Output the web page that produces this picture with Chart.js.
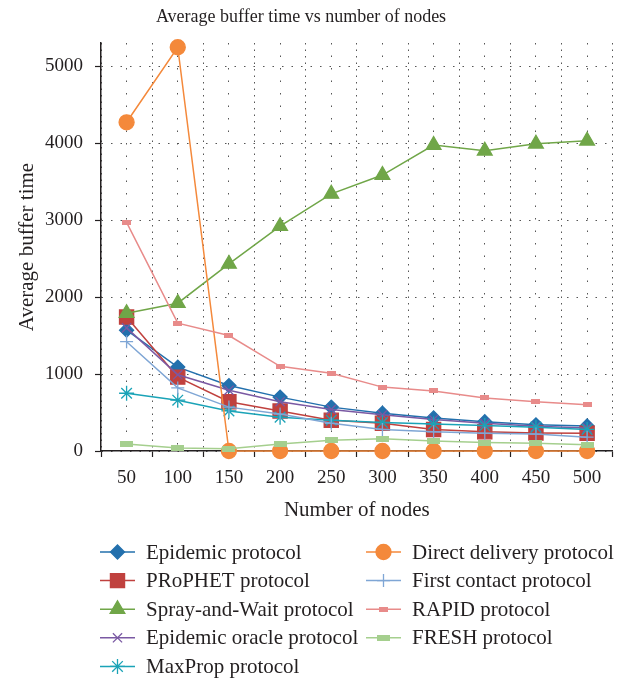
<!DOCTYPE html>
<html>
<head>
<meta charset="utf-8">
<script src="https://cdn.jsdelivr.net/npm/chart.js@4.4.1/dist/chart.umd.min.js"></script>
<style>
  html, body { margin: 0; padding: 0; background: #fff; }
</style>
</head>
<body>
<canvas id="grafico-buffer" width="624" height="679"></canvas>
<script>
/* Average buffer time vs number of nodes */

// ----------------------------------------- Dados ----------------------------------------- //
const nos = [50, 100, 150, 200, 250, 300, 350, 400, 450, 500];
const yTicks = [0, 1000, 2000, 3000, 4000, 5000];

const epidemic       = [1570, 1090, 850, 700, 570, 490, 430, 380, 340, 325];
const prophet        = [1740, 960, 640, 520, 400, 360, 280, 250, 235, 230];
const sprayWait      = [1790, 1920, 2430, 2920, 3340, 3585, 3975, 3900, 3990, 4030];
const epidemicOracle = [1600, 990, 790, 640, 540, 470, 410, 360, 320, 300];
const maxProp        = [750, 660, 520, 440, 400, 370, 350, 330, 310, 280];
const directDelivery = [4270, 5245, 0, 0, 0, 0, 0, 0, 0, 0];
const firstContact   = [1420, 820, 570, 480, 360, 280, 250, 230, 220, 180];
const rapid          = [2970, 1660, 1500, 1100, 1010, 830, 780, 690, 640, 600];
const fresh          = [90, 40, 30, 90, 140, 160, 130, 110, 100, 80];

// ----------------------------------------- Estilo ----------------------------------------- //
const FONTE = "'Liberation Serif', 'Times New Roman', serif";
const TEXTO = '#231f20';

function marcaRect(w, h, cor) {   // marcador retangular achatado
  const c = document.createElement('canvas');
  c.width = w; c.height = h;
  const g = c.getContext('2d');
  g.fillStyle = cor;
  g.fillRect(0, 0, w, h);
  return c;
}

function serie(label, valores, cor, estilo, raio) {
  return {
    label,
    data: nos.map((n, i) => ({ x: n, y: valores[i] })),
    borderColor: cor,
    backgroundColor: cor,
    pointBackgroundColor: cor,
    pointBorderColor: cor,
    pointStyle: estilo,
    pointRadius: raio,
    pointHoverRadius: raio,
    pointBorderWidth: 1.3,
    borderWidth: 1.5,
    tension: 0,
    clip: false
  };
}

const series = [
  serie('Epidemic protocol', epidemic, '#2370ad', 'rectRot', 7),
  serie('PRoPHET protocol', prophet, '#c0413e', 'rect', 10),
  serie('Spray-and-Wait protocol', sprayWait, '#70a648', 'triangle', 8.5),
  serie('Epidemic oracle protocol', epidemicOracle, '#7a59a3', 'crossRot', 6.5),
  serie('MaxProp protocol', maxProp, '#1aa3b7', 'star', 7.5),
  serie('Direct delivery protocol', directDelivery, '#f4893b', 'circle', 7.5),
  serie('First contact protocol', firstContact, '#7fa6d5', 'cross', 6.5),
  serie('RAPID protocol', rapid, '#e88b8a', marcaRect(9, 5, '#e88b8a'), 5),
  serie('FRESH protocol', fresh, '#a5cf8e', marcaRect(13, 6, '#a5cf8e'), 5)
];
// o último desenhado fica por cima
series.forEach((s, i) => { s.order = series.length - i; });

// ----------------------------------------- Título e legenda (2 colunas) ----------------------------------------- //
const extras = {
  id: 'extras',
  afterDraw(chart) {
    const ctx = chart.ctx;
    ctx.save();
    ctx.fillStyle = TEXTO;
    ctx.font = `18px ${FONTE}`;
    ctx.textAlign = 'center';
    ctx.textBaseline = 'middle';
    ctx.fillText('Average buffer time vs number of nodes', 301, 17);

    const colX = [100, 366];
    ctx.font = `21px ${FONTE}`;
    ctx.textAlign = 'left';
    chart.data.datasets.forEach((ds, i) => {
      const col = i < 5 ? 0 : 1;
      const row = i < 5 ? i : i - 5;
      const x = colX[col];
      const y = 552 + row * 28.6;
      ctx.strokeStyle = ds.borderColor;
      ctx.lineWidth = 1.5;
      ctx.beginPath();
      ctx.moveTo(x, y);
      ctx.lineTo(x + 35, y);
      ctx.stroke();
      ctx.fillStyle = ds.pointBackgroundColor;
      ctx.strokeStyle = ds.pointBorderColor;
      ctx.lineWidth = ds.pointBorderWidth;
      Chart.helpers.drawPoint(ctx, {
        pointStyle: ds.pointStyle, radius: ds.pointRadius,
        borderWidth: ds.pointBorderWidth, rotation: 0
      }, x + 17.5, y);
      ctx.fillStyle = TEXTO;
      ctx.fillText(ds.label, x + 46, y + 1);
    });
    ctx.restore();
  }
};

// ----------------------------------------- Gráfico ----------------------------------------- //
new Chart(document.getElementById('grafico-buffer'), {
  type: 'line',
  data: { datasets: series },
  plugins: [extras],
  options: {
    responsive: false,
    animation: false,
    layout: { padding: { left: 0, right: 3, top: 43, bottom: 150 } },
    plugins: {
      legend: { display: false },
      title: { display: false },
      tooltip: { enabled: false }
    },
    scales: {
      x: {               // limites entre categorias: traços do eixo
        type: 'linear', position: 'bottom', weight: 0,
        min: 25, max: 525,
        afterBuildTicks: s => { s.ticks = nos.map(n => ({ value: n - 25 })).concat([{ value: 525 }]); },
        afterFit: s => { s.height = 6; },
        ticks: { display: false },
        grid: { color: '#555', tickLength: 6, tickColor: TEXTO, tickWidth: 1.2 },
        border: { color: TEXTO, width: 1.5, dash: [1.5, 5] }
      },
      x2: {              // categorias com rótulos
        type: 'linear', position: 'bottom', weight: 1,
        min: 25, max: 525,
        afterBuildTicks: s => { s.ticks = nos.map(n => ({ value: n })); },
        afterFit: s => { s.height = 72; },
        ticks: {
          font: { family: FONTE, size: 19 }, color: TEXTO, padding: 4,
          autoSkip: false, maxRotation: 0, callback: v => String(v)
        },
        grid: { color: '#555', tickLength: 6, tickColor: 'rgba(0,0,0,0)' },
        border: { display: false, dash: [1.5, 11] },
        title: {
          display: true, text: 'Number of nodes', color: TEXTO,
          font: { family: FONTE, size: 21 }, padding: { top: 0, bottom: 6 }
        }
      },
      y: {
        min: 0, max: 5300,
        afterBuildTicks: s => { s.ticks = yTicks.map(v => ({ value: v })); },
        afterFit: s => { s.width = 101; },
        ticks: { font: { family: FONTE, size: 19 }, color: TEXTO, padding: 12, callback: v => String(v) },
        grid: { color: '#555', tickLength: 6, tickColor: TEXTO, tickWidth: 1.2 },
        border: { color: TEXTO, width: 1.5, dash: [1.5, 8] },
        title: {
          display: true, text: 'Average buffer time', color: TEXTO,
          font: { family: FONTE, size: 21 }, padding: { top: 15, bottom: 0 }
        }
      }
    }
  }
});
</script>
</body>
</html>
